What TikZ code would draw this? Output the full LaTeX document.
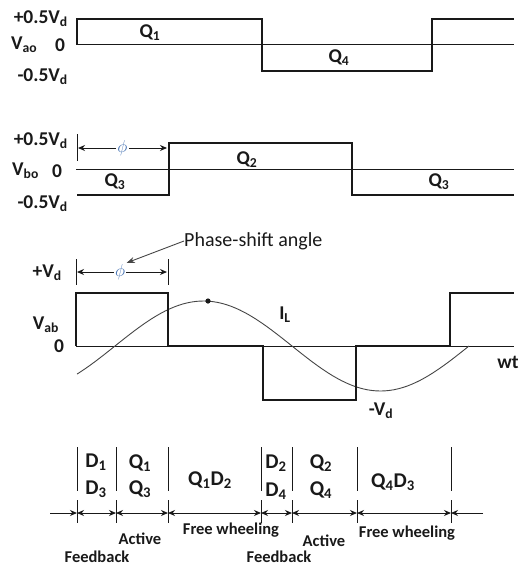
\documentclass[tikz,border=0pt]{standalone}
\usepackage{fontspec}
\setmainfont{Carlito}
\usetikzlibrary{arrows.meta, positioning}
\definecolor{inkGray} {RGB}{25, 25, 25}
\definecolor{phiBlue} {RGB}{70, 115, 180}
\definecolor{curGray} {RGB}{70, 70, 70}
\newcommand{\Vsub}[1]{V\textsubscript{#1}}
\tikzset{
  lbl/.style    = {font=\fontsize{19.5}{22}\selectfont\bfseries, inner sep=0pt, text=inkGray},
  modlbl/.style = {font=\fontsize{21}{24}\selectfont\bfseries, inner sep=0pt, text=inkGray},
  mode/.style   = {font=\fontsize{16.5}{19}\selectfont\bfseries, inner sep=0pt, text=inkGray},
  note/.style   = {font=\fontsize{20}{23}\selectfont, inner sep=0pt, text=inkGray},
  phil/.style   = {font=\fontsize{17}{20}\selectfont, inner sep=1pt, text=phiBlue, fill=white},
  wave/.style   = {line width=2.6pt, color=inkGray, line join=miter},
  axis/.style   = {line width=0.8pt, color=inkGray},
  curr/.style   = {line width=0.9pt, color=curGray},
  tick/.style   = {line width=1pt, color=inkGray},
  dim/.style    = {{Stealth[length=7pt,width=6pt]}-{Stealth[length=7pt,width=6pt]},
                   line width=1pt, color=inkGray},
  sarr/.style   = {-{Stealth[length=7pt,width=6pt]}, line width=1pt, color=inkGray},
}

\begin{document}
\begin{tikzpicture}[x=1pt, y=-1pt]
\useasboundingbox (0,0) rectangle (522,568);

% ---- Panel 1: V_ao ----------------------------------------------------------
\node[lbl, anchor=east] (aop)  at (68,19) {+0.5\Vsub{d}};
\node[lbl, anchor=west] (aov)  at (11,45) {\Vsub{ao}};
\node[lbl]              (aoz)  at (60,45) {0};
\node[lbl, anchor=east] (aon)  at (68,77) {-0.5\Vsub{d}};
\draw[axis] (76,44) -- (514,44);
\draw[wave] (77,44) -- (77,19) -- (262,19) -- (262,71) -- (432,71) -- (432,19) -- (514,19);
\node[lbl] (q1a) at (150,33) {Q\textsubscript{1}};
\node[lbl] (q4a) at (339,58) {Q\textsubscript{4}};

% ---- Panel 2: V_bo ----------------------------------------------------------
\node[lbl, anchor=east] (bop)  at (68,141) {+0.5\Vsub{d}};
\node[lbl, anchor=west] (bov)  at (12,171) {\Vsub{bo}};
\node[lbl]              (boz)  at (57,171) {0};
\node[lbl, anchor=east] (bon)  at (68,204) {-0.5\Vsub{d}};
\draw[axis] (76,169) -- (514,169);
\draw[wave] (77,195) -- (169,195) -- (169,143) -- (352,143) -- (352,195) -- (514,195);
\draw[tick] (77,134) -- (77,161);
\coordinate (phb0) at (78,148);
\coordinate (phb1) at (167,148);
\draw[dim] (phb0) -- node[phil] (phib) {$\phi$} (phb1);
\node[lbl] (q2b)  at (247,160) {Q\textsubscript{2}};
\node[lbl] (q3bl) at (115,182) {Q\textsubscript{3}};
\node[lbl] (q3br) at (439,182) {Q\textsubscript{3}};

% ---- Panel 3: V_ab and load current ----------------------------------------
\node[lbl, anchor=east] (abp) at (62,273) {+\Vsub{d}};
\node[lbl]              (abv) at (46,325) {\Vsub{ab}};
\node[lbl]              (abz) at (59,346) {0};
\draw[tick] (76,259) -- (76,285);
\draw[tick] (168,259) -- (168,285);
\coordinate (pha0) at (77,272);
\coordinate (pha1) at (167,272);
\draw[dim] (pha0) -- node[phil, pos=0.48] (phia) {$\phi$} (pha1);
\node[note, anchor=west] (psa) at (184,241) {Phase-shift angle};
\draw[-{Stealth[length=8pt,width=6pt]}, line width=0.9pt, color=curGray]
     (psa.west) -- (phia.north east);
\draw[axis] (76,346) -- (514,346);
\draw[curr] plot[domain=77:469, samples=90] (\x, {346 - 45*sin((\x-115)/177*180)});
\fill[inkGray] (208,301) circle (2.6pt);
\draw[wave] (76,346) -- (76,293) -- (168,293) -- (168,346) -- (263,346) -- (263,400)
            -- (356,400) -- (356,346) -- (450,346) -- (450,293) -- (514,293);
\node[lbl] (il)  at (285,315) {I\textsubscript{L}};
\node[lbl] (wt)  at (508,362) {wt};
\node[lbl] (vdn) at (381,411) {-\Vsub{d}};

% ---- Panel 4: conduction intervals -----------------------------------------
\foreach \i/\xx in {1/77, 2/116, 3/168, 4/261, 5/292, 6/357, 7/451} {
  \draw[tick] (\xx,447) -- (\xx,491);
  \draw[tick] (\xx,500) -- (\xx,523);
  \coordinate (t\i) at (\xx,513);
}
\coordinate (tl) at (50,513);
\coordinate (tr) at (483,513);
\draw[sarr] (tl) -- (t1);
\foreach \a/\b in {1/2, 2/3, 3/4, 4/5, 5/6, 6/7}
  \draw[dim] (t\a) -- (t\b);
\draw[sarr] (tr) -- (t7);

\node[modlbl] (d1)   at (96,462)  {D\textsubscript{1}};
\node[modlbl] (d3)   at (96,489)  {D\textsubscript{3}};
\node[modlbl] (q1c)  at (140,463) {Q\textsubscript{1}};
\node[modlbl] (q3c)  at (140,489) {Q\textsubscript{3}};
\node[modlbl] (q1d2) at (210,480) {Q\textsubscript{1}D\textsubscript{2}};
\node[modlbl] (d2)   at (276,463) {D\textsubscript{2}};
\node[modlbl] (d4)   at (276,491) {D\textsubscript{4}};
\node[modlbl] (q2c)  at (321,463) {Q\textsubscript{2}};
\node[modlbl] (q4c)  at (321,490) {Q\textsubscript{4}};
\node[modlbl] (q4d3) at (393,482) {Q\textsubscript{4}D\textsubscript{3}};

\node[mode] (fw1) at (231,530) {Free wheeling};
\node[mode] (ac1) at (140,539) {Active};
\node[mode] (fb1) at (97,557)  {Feedback};
\node[mode] (fw2) at (407,533) {Free wheeling};
\node[mode] (ac2) at (324,541) {Active};
\node[mode] (fb2) at (279,557) {Feedback};

\end{tikzpicture}
\end{document}
